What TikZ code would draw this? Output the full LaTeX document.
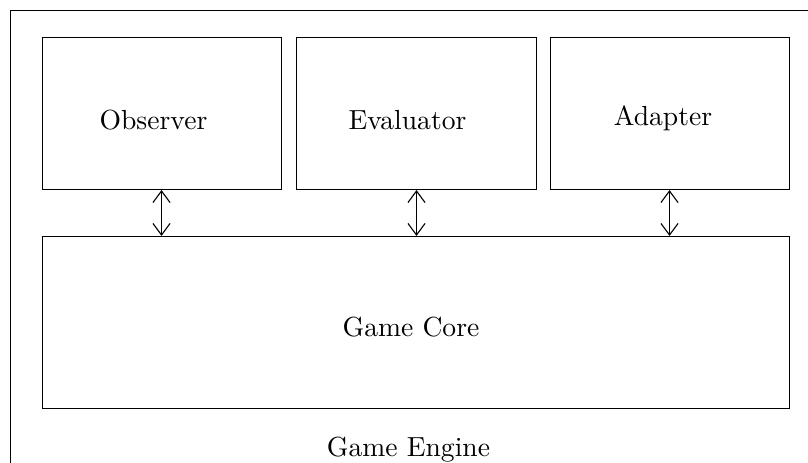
\documentclass[tikz,border=0pt]{standalone}
\usetikzlibrary{arrows.meta}
\begin{document}
\begin{tikzpicture}[x=0.3623pt,y=-0.3623pt,
  module/.style={draw,rectangle,inner sep=0pt,minimum width=86.6pt,minimum height=55.07pt},
  caption/.style={anchor=base,inner sep=0pt},
  link/.style={{Straight Barb[length=4.2pt,width=6.2pt]}-{Straight Barb[length=4.2pt,width=6.2pt]}}]
  \useasboundingbox (0,0) rectangle (808,463);
  \clip (0,0) rectangle (808,463);
  % enclosing engine frame
  \draw (10.5,10.5) rectangle (830,490);
  % component boxes
  \node[module] (obs) at (162,113.5) {};
  \node[module,minimum width=86.95pt] (eval) at (416.5,113.5) {};
  \node[module] (adapt) at (670,113.5) {};
  \node[module,minimum width=270.64pt,minimum height=62.32pt] (core) at (416,322.5) {};
  % labels
  \node[caption] (tobs) at (153.5,129) {Observer};
  \node[caption] (teval) at (407.5,129) {Evaluator};
  \node[caption] (tadapt) at (663,125.5) {Adapter};
  \node[caption] (tcore) at (411,336) {Game Core};
  \node[caption] (tengine) at (408.5,456) {Game Engine};
  % links to the core
  \draw[link] ([xshift=-0.18pt]obs.south) -- ([xshift=-0.18pt]obs.south |- core.north);
  \draw[link] (eval.south) -- (eval.south |- core.north);
  \draw[link] ([xshift=-0.18pt]adapt.south) -- ([xshift=-0.18pt]adapt.south |- core.north);
\end{tikzpicture}
\end{document}
